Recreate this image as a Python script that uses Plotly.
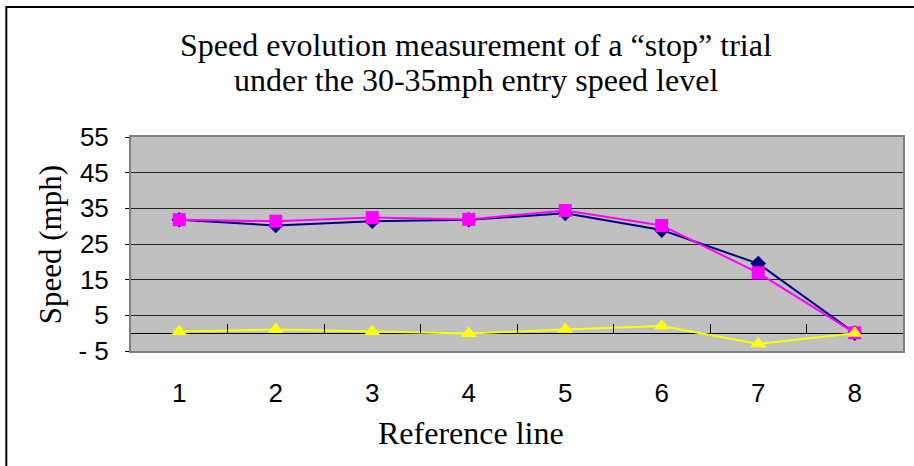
import plotly.graph_objects as go

categories = [1, 2, 3, 4, 5, 6, 7, 8]
series_blue = [31.8, 30.2, 31.4, 31.8, 33.6, 28.9, 19.5, 0.0]
series_magenta = [31.8, 31.4, 32.4, 31.9, 34.4, 30.2, 16.9, 0.1]
series_yellow = [0.5, 1.0, 0.5, -0.1, 1.0, 2.0, -3.0, 0.0]
y_ticks = [-5, 5, 15, 25, 35, 45, 55]
y_ticktext = ["- 5", "5", "15", "25", "35", "45", "55"]
title_lines = ["Speed evolution measurement of a \u201cstop\u201d trial",
               "under the 30-35mph entry speed level"]
x_title = "Reference line"
y_title = "Speed (mph)"

W, H = 914, 466
L, R, T, B = 131, 9, 137, 115
PW, PH = W - L - R, H - T - B

def px_x(x):
    return (x - L) / PW

def px_y(y):
    return (H - B - y) / PH

fig = go.Figure()
fig.add_trace(go.Scatter(x=categories, y=series_blue, mode="lines+markers",
                         line=dict(color="#000080", width=2),
                         marker=dict(symbol="diamond", size=12, color="#000080"),
                         cliponaxis=False))
fig.add_trace(go.Scatter(x=categories, y=series_magenta, mode="lines+markers",
                         line=dict(color="#FF00FF", width=2),
                         marker=dict(symbol="square", size=13, color="#FF00FF"),
                         cliponaxis=False))
fig.add_trace(go.Scatter(x=categories, y=series_yellow, mode="lines+markers",
                         line=dict(color="#FFFF00", width=2),
                         marker=dict(symbol="triangle-up", size=14, color="#FFFF00"),
                         cliponaxis=False))

# secondary x-axis at y=0 for tick marks between categories
fig.add_trace(go.Scatter(x=categories, y=series_yellow, xaxis="x2", mode="none",
                         showlegend=False, hoverinfo="skip"))

serif = "Liberation Serif, Times New Roman"
sans = "Liberation Sans, Arial"

fig.update_layout(
    width=W, height=H,
    margin=dict(l=L, r=R, t=T, b=B),
    paper_bgcolor="white",
    plot_bgcolor="#C0C0C0",
    showlegend=False,
    xaxis=dict(range=[0.5, 8.5], tickvals=categories,
               ticktext=[str(c) for c in categories],
               showgrid=False, zeroline=False,
               showline=True, linecolor="#808080", linewidth=2, mirror=True,
               ticks="", ticklabelstandoff=18,
               tickfont=dict(family=sans, size=26, color="black")),
    xaxis2=dict(range=[0.5, 8.5], overlaying="x", anchor="free",
                position=5/60, side="bottom",
                tickvals=[1.5, 2.5, 3.5, 4.5, 5.5, 6.5, 7.5, 8.5],
                ticks="inside", ticklen=9, tickcolor="black", tickwidth=1,
                showticklabels=False, showgrid=False, zeroline=False,
                showline=False),
    yaxis=dict(range=[-5, 55], tickvals=y_ticks, ticktext=y_ticktext,
               showgrid=True, gridcolor="#222222", gridwidth=1,
               zeroline=True, zerolinecolor="black", zerolinewidth=1,
               showline=True, linecolor="#808080", linewidth=2, mirror=True,
               ticks="outside", ticklen=4, tickcolor="black",
               ticklabelstandoff=11,
               tickfont=dict(family=sans, size=26, color="black")),
    annotations=[
        dict(text=title_lines[0], xref="paper", yref="paper",
             x=px_x(477), y=px_y(45), xanchor="center", yanchor="middle",
             showarrow=False, font=dict(family=serif, size=32, color="black")),
        dict(text=title_lines[1], xref="paper", yref="paper",
             x=px_x(477), y=px_y(80), xanchor="center", yanchor="middle",
             showarrow=False, font=dict(family=serif, size=32, color="black")),
        dict(text=x_title, xref="paper", yref="paper",
             x=px_x(472), y=px_y(433), xanchor="center", yanchor="middle",
             showarrow=False, font=dict(family=serif, size=32, color="black")),
        dict(text=y_title, xref="paper", yref="paper", textangle=-90,
             x=px_x(50), y=px_y(245), xanchor="center", yanchor="middle",
             showarrow=False, font=dict(family=serif, size=31, color="black")),
    ],
    shapes=[dict(type="rect", xref="paper", yref="paper",
                 x0=px_x(6), x1=px_x(925), y0=px_y(480), y1=px_y(7),
                 line=dict(color="black", width=2), layer="below")],
)

fig.write_html("out.html")
